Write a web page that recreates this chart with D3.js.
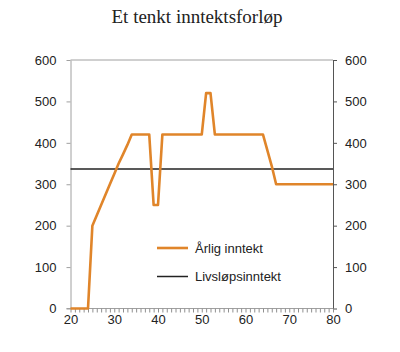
<!DOCTYPE html>
<html lang="no">
<head>
    <meta charset="UTF-8">
    <title>Et tenkt inntektsforløp</title>
    <style>
        body { margin: 0; background: #fff; }
        svg text { font-family: "Liberation Sans", Arial, sans-serif; fill: #222; }
    </style>
    <script src="https://cdn.jsdelivr.net/npm/d3@7"></script>
</head>
<body>
<svg id="chart" width="400" height="352"></svg>
<script>
    // Årlig inntekt
    var ages   = [20, 24, 25, 27, 29, 30, 31, 32, 33, 34, 38, 39, 40, 41, 50, 51, 52, 53, 64, 65, 66, 67, 80];
    var income = [0, 0, 200, 250, 300, 325, 350, 372, 395, 420, 420, 250, 250, 420, 420, 520, 520, 420, 420, 382, 344, 300, 300];
    var lifetimeIncome = 337;
    var yTicks = [0, 100, 200, 300, 400, 500, 600];
    var xTicks = [20, 30, 40, 50, 60, 70, 80];
    var legendLabels = ["Årlig inntekt", "Livsløpsinntekt"];

    var orange = "#e0852a";
    // plot edges (window.top is reserved, so use other names)
    var plotLeft = 70.5, plotRight = 333, plotTop = 60, plotBottom = 308.5;

    var svg = d3.select("#chart");

    var x = d3.scaleLinear().domain([20, 80]).range([plotLeft, plotRight]);
    var y = d3.scaleLinear().domain([0, 600]).range([plotBottom, plotTop]);

    // title
    svg.append("text")
        .attr("x", 197)
        .attr("y", 23)
        .attr("text-anchor", "middle")
        .style("font-family", "'Liberation Serif', 'Times New Roman', serif")
        .style("font-size", "19px")
        .text("Et tenkt inntektsforløp");

    // top border
    svg.append("line")
        .attr("x1", plotLeft).attr("x2", plotRight)
        .attr("y1", plotTop).attr("y2", plotTop)
        .attr("stroke", "#a0a0a0");

    // left axis
    var yLeft = svg.append("g")
        .attr("transform", "translate(" + plotLeft + ",0)")
        .call(d3.axisLeft(y).tickValues(yTicks).tickSize(4).tickPadding(10).tickSizeOuter(0));
    yLeft.select(".domain").attr("stroke", "#a0a0a0");
    yLeft.selectAll(".tick line").attr("stroke", "#a0a0a0");

    // right axis
    var yRight = svg.append("g")
        .attr("transform", "translate(" + plotRight + ",0)")
        .call(d3.axisRight(y).tickValues(yTicks).tickSize(4).tickPadding(8).tickSizeOuter(0));
    yRight.select(".domain").attr("stroke", "#555");
    yRight.selectAll(".tick line").attr("stroke", "#555");

    // bottom axis: minor ticks every year, labels every 10
    var xMinor = svg.append("g")
        .attr("transform", "translate(0," + plotBottom + ")")
        .call(d3.axisBottom(x).tickValues(d3.range(20, 81)).tickSize(4).tickFormat("").tickSizeOuter(0));
    xMinor.select(".domain").attr("stroke", "#a0a0a0").attr("d", "M" + (plotLeft - 4) + ",0H" + plotRight);
    xMinor.selectAll(".tick line").attr("stroke", "#909090");

    var xMajor = svg.append("g")
        .attr("transform", "translate(0," + plotBottom + ")")
        .call(d3.axisBottom(x).tickValues(xTicks).tickSize(0).tickPadding(6));
    xMajor.select(".domain").remove();

    svg.selectAll(".tick text")
        .style("font-size", "13px")
        .style("font-family", "'Liberation Sans', Arial, sans-serif")
        .attr("fill", "#222");

    // lifetime income line
    svg.append("line")
        .attr("x1", plotLeft).attr("x2", plotRight)
        .attr("y1", y(lifetimeIncome)).attr("y2", y(lifetimeIncome))
        .attr("stroke", "#222")
        .attr("stroke-width", 1.5);

    // annual income line
    var line = d3.line()
        .x(function(d, i) { return x(ages[i]); })
        .y(function(d) { return y(d); });

    svg.append("path")
        .datum(income)
        .attr("d", line)
        .attr("fill", "none")
        .attr("stroke", orange)
        .attr("stroke-width", 2.6)
        .attr("stroke-linejoin", "round");

    // legend
    var legend = svg.append("g").attr("transform", "translate(157,248)");
    legendLabels.forEach(function(label, i) {
        legend.append("line")
            .attr("x1", 0).attr("x2", 31)
            .attr("y1", i * 28.5).attr("y2", i * 28.5)
            .attr("stroke", i === 0 ? orange : "#222")
            .attr("stroke-width", i === 0 ? 2.6 : 1.5);
        legend.append("text")
            .attr("x", 38)
            .attr("y", i * 28.5 + 4.5)
            .style("font-size", "13px")
            .text(label);
    });
</script>
</body>
</html>
